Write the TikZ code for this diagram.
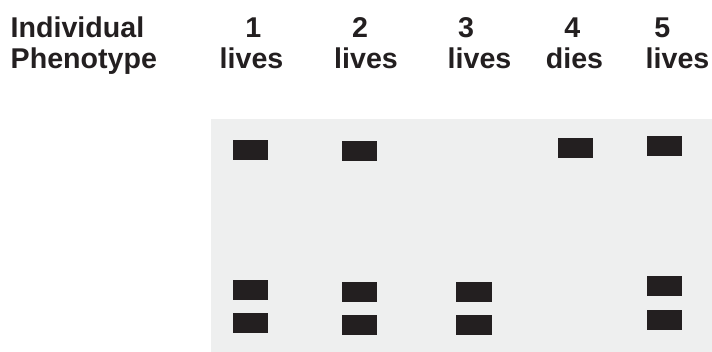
\documentclass[tikz,border=0pt]{standalone}
\usepackage{fontspec}
\setmainfont{Liberation Sans}
\definecolor{gelgray}{RGB}{238,239,239}
\definecolor{inkblack}{RGB}{35,31,32}
\tikzset{
  lbl/.style={inner sep=0pt, text=inkblack, font=\fontsize{28.6}{31}\selectfont\bfseries},
  band/.style={fill=inkblack, draw=none, minimum width=35.5pt, minimum height=20pt, inner sep=0pt},
  gel/.style={fill=gelgray, draw=none}
}
\begin{document}
\begin{tikzpicture}[x=1pt,y=1pt]
\useasboundingbox (0,0) rectangle (712,352);
% gel
\path[gel] (211,0) rectangle (712,233);
% header labels
\node[lbl, anchor=base west] (ind) at (10.5,314.7) {Individual};
\node[lbl, anchor=base west] (phe) at (10.5,283.7) {Phenotype};
\node[lbl, anchor=base] (n1) at (253.3,314.7) {1};
\node[lbl, anchor=base] (n2) at (360,314.7) {2};
\node[lbl, anchor=base] (n3) at (466,314.7) {3};
\node[lbl, anchor=base] (n4) at (572.3,314.7) {4};
\node[lbl, anchor=base] (n5) at (662.3,314.7) {5};
\node[lbl, anchor=base] (p1) at (251.5,283.7) {lives};
\node[lbl, anchor=base] (p2) at (366,283.7) {lives};
\node[lbl, anchor=base] (p3) at (479.5,283.7) {lives};
\node[lbl, anchor=base] (p4) at (574.5,283.7) {dies};
\node[lbl, anchor=base] (p5) at (677.5,283.7) {lives};
% bands
\node[band] (b1a) at (250.7,202.3) {};
\node[band] (b1b) at (250.7,62.3) {};
\node[band] (b1c) at (250.7,29) {};
\node[band] (b2a) at (359.3,200.5) {};
\node[band] (b2b) at (359.3,60.2) {};
\node[band] (b2c) at (359.3,26.8) {};
\node[band] (b3b) at (474,60.2) {};
\node[band] (b3c) at (474,26.8) {};
\node[band] (b4a) at (575.5,204.3) {};
\node[band] (b5a) at (664.5,206) {};
\node[band] (b5b) at (664.5,65.8) {};
\node[band] (b5c) at (664.5,32.2) {};
\end{tikzpicture}
\end{document}
